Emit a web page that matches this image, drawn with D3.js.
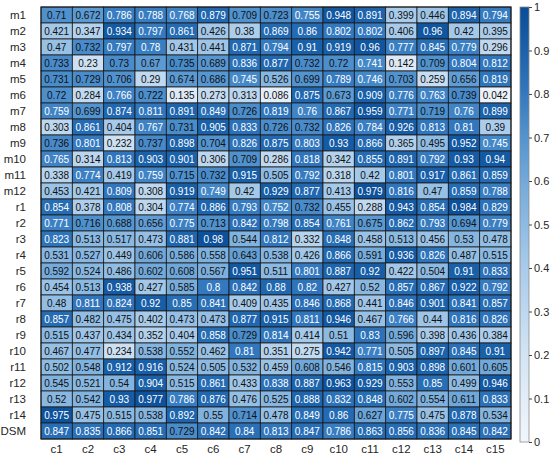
<!DOCTYPE html>
<html><head><meta charset="utf-8">
<script src="https://cdn.jsdelivr.net/npm/d3@7/dist/d3.min.js"></script>
<style>body{margin:0;background:#fff}svg{display:block;font-family:"Liberation Sans",Arial,sans-serif}</style>
</head><body><svg id="c" width="550" height="455"></svg>
<script>
const rows = ["m1","m2","m3","m4","m5","m6","m7","m8","m9","m10","m11","m12","r1","r2","r3","r4","r5","r6","r7","r8","r9","r10","r11","r12","r13","r14","DSM"];
const cols = ["c1","c2","c3","c4","c5","c6","c7","c8","c9","c10","c11","c12","c13","c14","c15"];
const m1 = [0.71,0.672,0.786,0.788,0.768,0.879,0.709,0.723,0.755,0.948,0.891,0.399,0.446,0.894,0.794];
const m2 = [0.421,0.347,0.934,0.797,0.861,0.426,0.38,0.869,0.86,0.802,0.802,0.406,0.96,0.42,0.395];
const m3 = [0.47,0.732,0.797,0.78,0.431,0.441,0.871,0.794,0.91,0.919,0.96,0.777,0.845,0.779,0.296];
const m4 = [0.733,0.23,0.73,0.67,0.735,0.689,0.836,0.877,0.732,0.72,0.741,0.142,0.709,0.804,0.812];
const m5 = [0.731,0.729,0.706,0.29,0.674,0.686,0.745,0.526,0.699,0.789,0.746,0.703,0.259,0.656,0.819];
const m6 = [0.72,0.284,0.766,0.722,0.135,0.273,0.313,0.086,0.875,0.673,0.909,0.776,0.763,0.739,0.042];
const m7 = [0.759,0.699,0.874,0.811,0.891,0.849,0.726,0.819,0.76,0.867,0.959,0.771,0.719,0.76,0.899];
const m8 = [0.303,0.861,0.404,0.767,0.731,0.905,0.833,0.726,0.732,0.826,0.784,0.926,0.813,0.81,0.39];
const m9 = [0.736,0.801,0.232,0.737,0.898,0.704,0.826,0.875,0.803,0.93,0.866,0.365,0.495,0.952,0.745];
const m10 = [0.765,0.314,0.813,0.903,0.901,0.306,0.709,0.286,0.818,0.342,0.855,0.891,0.792,0.93,0.94];
const m11 = [0.338,0.774,0.419,0.759,0.715,0.732,0.915,0.505,0.792,0.318,0.42,0.801,0.917,0.861,0.859];
const m12 = [0.453,0.421,0.809,0.308,0.919,0.749,0.42,0.929,0.877,0.413,0.979,0.816,0.47,0.859,0.788];
const r1 = [0.854,0.378,0.808,0.304,0.774,0.886,0.793,0.752,0.732,0.455,0.288,0.943,0.854,0.984,0.829];
const r2 = [0.771,0.716,0.688,0.656,0.775,0.713,0.842,0.798,0.854,0.761,0.675,0.862,0.793,0.694,0.779];
const r3 = [0.823,0.513,0.517,0.473,0.881,0.98,0.544,0.812,0.332,0.848,0.458,0.513,0.456,0.53,0.478];
const r4 = [0.531,0.527,0.449,0.606,0.586,0.558,0.643,0.538,0.426,0.866,0.591,0.936,0.826,0.487,0.515];
const r5 = [0.592,0.524,0.486,0.602,0.608,0.567,0.951,0.511,0.801,0.887,0.92,0.422,0.504,0.91,0.833];
const r6 = [0.454,0.513,0.938,0.427,0.585,0.8,0.842,0.88,0.82,0.427,0.52,0.857,0.867,0.922,0.792];
const r7 = [0.48,0.811,0.824,0.92,0.85,0.841,0.409,0.435,0.846,0.868,0.441,0.846,0.901,0.841,0.857];
const r8 = [0.857,0.482,0.475,0.402,0.473,0.473,0.877,0.915,0.811,0.946,0.467,0.766,0.44,0.816,0.826];
const r9 = [0.515,0.437,0.434,0.352,0.404,0.858,0.729,0.814,0.414,0.51,0.83,0.596,0.398,0.436,0.384];
const r10 = [0.467,0.477,0.234,0.538,0.552,0.462,0.81,0.351,0.275,0.942,0.771,0.505,0.897,0.845,0.91];
const r11 = [0.502,0.548,0.912,0.916,0.524,0.505,0.532,0.459,0.608,0.546,0.815,0.903,0.898,0.601,0.605];
const r12 = [0.545,0.521,0.54,0.904,0.515,0.861,0.433,0.838,0.887,0.963,0.929,0.553,0.85,0.499,0.946];
const r13 = [0.52,0.542,0.93,0.977,0.786,0.876,0.476,0.525,0.888,0.832,0.848,0.602,0.554,0.611,0.833];
const r14 = [0.975,0.475,0.515,0.538,0.892,0.55,0.714,0.478,0.849,0.86,0.627,0.775,0.475,0.878,0.534];
const DSM = [0.847,0.835,0.866,0.851,0.729,0.842,0.84,0.813,0.847,0.786,0.863,0.856,0.836,0.845,0.842];
const colorbarTicks = [0,0.1,0.2,0.3,0.4,0.5,0.6,0.7,0.8,0.9,1];

const matrix = [m1,m2,m3,m4,m5,m6,m7,m8,m9,m10,m11,m12,r1,r2,r3,r4,r5,r6,r7,r8,r9,r10,r11,r12,r13,r14,DSM];
const cells = [];
matrix.forEach((vals,i)=>vals.forEach((v,j)=>cells.push({row:rows[i],col:cols[j],v})));

const svg = d3.select("#c");
const L=41,R=511,T=7,B=439;
const x = d3.scaleBand().domain(cols).range([L,R]);
const y = d3.scaleBand().domain(rows).range([T,B]);
const color = d3.scaleLinear()
  .domain([0,0.2,0.4,0.5,0.6,0.7,0.8,0.9,1])
  .range(["#f1f6fc","#d3e4f4","#a9cbea","#8ebbe2","#73a9da","#5394cf","#3479bf","#1b62ab","#0a4c97"]);

svg.append("g").selectAll("rect").data(cells).join("rect")
  .attr("x",d=>x(d.col)).attr("y",d=>y(d.row))
  .attr("width",x.bandwidth()).attr("height",y.bandwidth())
  .attr("fill",d=>color(d.v)).attr("stroke","#1a1a1a").attr("stroke-width",0.8);

svg.append("g").selectAll("text").data(cells).join("text")
  .attr("x",d=>x(d.col)+x.bandwidth()/2).attr("y",d=>y(d.row)+y.bandwidth()/2)
  .attr("text-anchor","middle").attr("dominant-baseline","central")
  .attr("font-size",10).attr("fill",d=>d.v>=0.74?"#ffffff":"#111111")
  .text(d=>String(d.v));

svg.append("rect").attr("x",L).attr("y",T).attr("width",R-L).attr("height",B-T)
  .attr("fill","none").attr("stroke","#1a1a1a").attr("stroke-width",1);

// axis labels
svg.append("g").selectAll("text").data(rows).join("text")
  .attr("x",26).attr("y",d=>y(d)+y.bandwidth()/2)
  .attr("text-anchor","end").attr("dominant-baseline","central")
  .attr("font-size",11.5).attr("fill","#262626").text(d=>d);
svg.append("g").selectAll("text").data(cols).join("text")
  .attr("x",d=>x(d)+x.bandwidth()/2).attr("y",B+10)
  .attr("text-anchor","middle").attr("dominant-baseline","central")
  .attr("font-size",11.5).attr("fill","#262626").text(d=>d);

// colorbar
const cbX=520,cbW=9,cbT=7,cbB=442;
const cy = d3.scaleLinear().domain([0,1]).range([cbB,cbT]);
const defs = svg.append("defs");
const grad = defs.append("linearGradient").attr("id","g").attr("x1",0).attr("y1",1).attr("x2",0).attr("y2",0);
d3.range(0,1.0001,0.05).forEach(t=>grad.append("stop").attr("offset",t).attr("stop-color",color(t)));
svg.append("rect").attr("x",cbX).attr("y",cbT).attr("width",cbW).attr("height",cbB-cbT)
  .attr("fill","url(#g)").attr("stroke","#8c8c8c").attr("stroke-width",0.8);
const ax = svg.append("g").attr("transform",`translate(${cbX+cbW},0)`)
  .call(d3.axisRight(cy).tickValues(colorbarTicks).tickSize(3).tickPadding(2).tickFormat(d3.format("~g")));
ax.select(".domain").remove();
ax.selectAll("line").attr("stroke","#444");
ax.selectAll("text").attr("font-size",11).attr("fill","#262626").attr("font-family","Liberation Sans, Arial, sans-serif");
</script></body></html>
